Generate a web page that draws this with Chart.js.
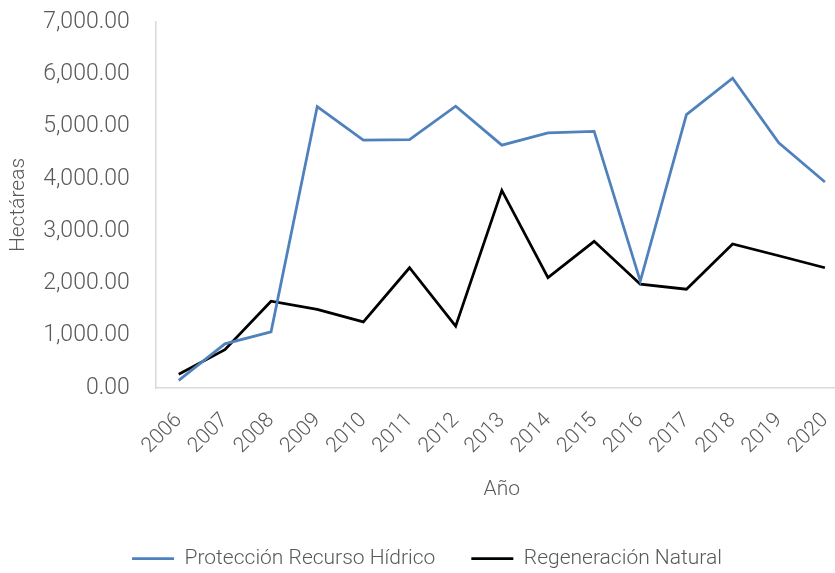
<!DOCTYPE html>
<html>
<head>
<meta charset="utf-8">
<script src="https://cdn.jsdelivr.net/npm/chart.js@4/dist/chart.umd.min.js"></script>
<style>
  html, body { margin: 0; padding: 0; background: #fff; overflow: hidden; }
  body { width: 835px; height: 573px; }
  canvas { display: block; }
</style>
</head>
<body>
<!-- canvas a bit wider than the window: the plot area runs past the right edge in the original -->
<canvas id="chart" width="848" height="573"></canvas>
<script>
// Years on the x axis
const years = ['2006', '2007', '2008', '2009', '2010', '2011', '2012', '2013',
               '2014', '2015', '2016', '2017', '2018', '2019', '2020'];

// Hectares per year
const proteccionHidrico = [145, 845, 1075, 5380, 4740, 4750, 5390, 4645,
                           4880, 4910, 2045, 5230, 5925, 4690, 3940];
const regeneracionNatural = [265, 735, 1660, 1505, 1265, 2300, 1185, 3780,
                             2110, 2805, 1985, 1890, 2755, 2530, 2300];

const seriesNames = ['Protección Recurso Hídrico', 'Regeneración Natural'];

const FONT = "'Roboto', sans-serif";
const GREY = '#595959';
const textFont = { family: FONT, size: 21, weight: '300' };

const fmt = v => Number(v).toLocaleString('en-US', { minimumFractionDigits: 2, maximumFractionDigits: 2 });

new Chart(document.getElementById('chart').getContext('2d'), {
  type: 'line',
  data: {
    labels: years,
    datasets: [{
      label: seriesNames[0],
      data: proteccionHidrico,
      borderColor: '#4f81bd',
      backgroundColor: '#4f81bd',
      borderWidth: 2.75,
      pointRadius: 0,
      tension: 0,
      fill: false
    }, {
      label: seriesNames[1],
      data: regeneracionNatural,
      borderColor: '#000000',
      backgroundColor: '#000000',
      borderWidth: 2.75,
      pointRadius: 0,
      tension: 0,
      fill: false
    }]
  },
  options: {
    responsive: false,
    animation: false,
    layout: { padding: { top: 22, left: 6, right: 0, bottom: -6 } },
    plugins: {
      tooltip: { enabled: false },
      legend: {
        position: 'bottom',
        labels: {
          usePointStyle: true,
          pointStyle: 'line',
          pointStyleWidth: 42,
          color: GREY,
          font: textFont,
          padding: 36
        }
      }
    },
    scales: {
      x: {
        offset: true,
        // tick marks hidden, their length only spaces the labels off the axis
        grid: { display: false, drawTicks: true, tickLength: 16 },
        border: { display: true, color: '#d9d9d9', width: 1.5 },
        afterFit: scale => { scale.paddingRight = 0; },
        ticks: {
          color: GREY,
          font: textFont,
          maxRotation: 45,
          minRotation: 45,
          padding: 4,
          autoSkip: false
        },
        title: {
          display: true,
          text: 'Año',
          color: GREY,
          font: textFont,
          padding: { top: 14, bottom: 10 }
        }
      },
      y: {
        min: 0,
        max: 7000,
        grid: { display: false, drawTicks: true, tickLength: 22 },
        border: { display: true, color: '#d9d9d9', width: 1.5 },
        ticks: {
          stepSize: 1000,
          color: GREY,
          font: { family: FONT, size: 23, weight: '300' },
          padding: 4,
          callback: v => fmt(v)
        },
        title: {
          display: true,
          text: 'Hectáreas',
          color: GREY,
          font: textFont,
          padding: { top: 0, bottom: 8 }
        }
      }
    }
  }
});
</script>
</body>
</html>
